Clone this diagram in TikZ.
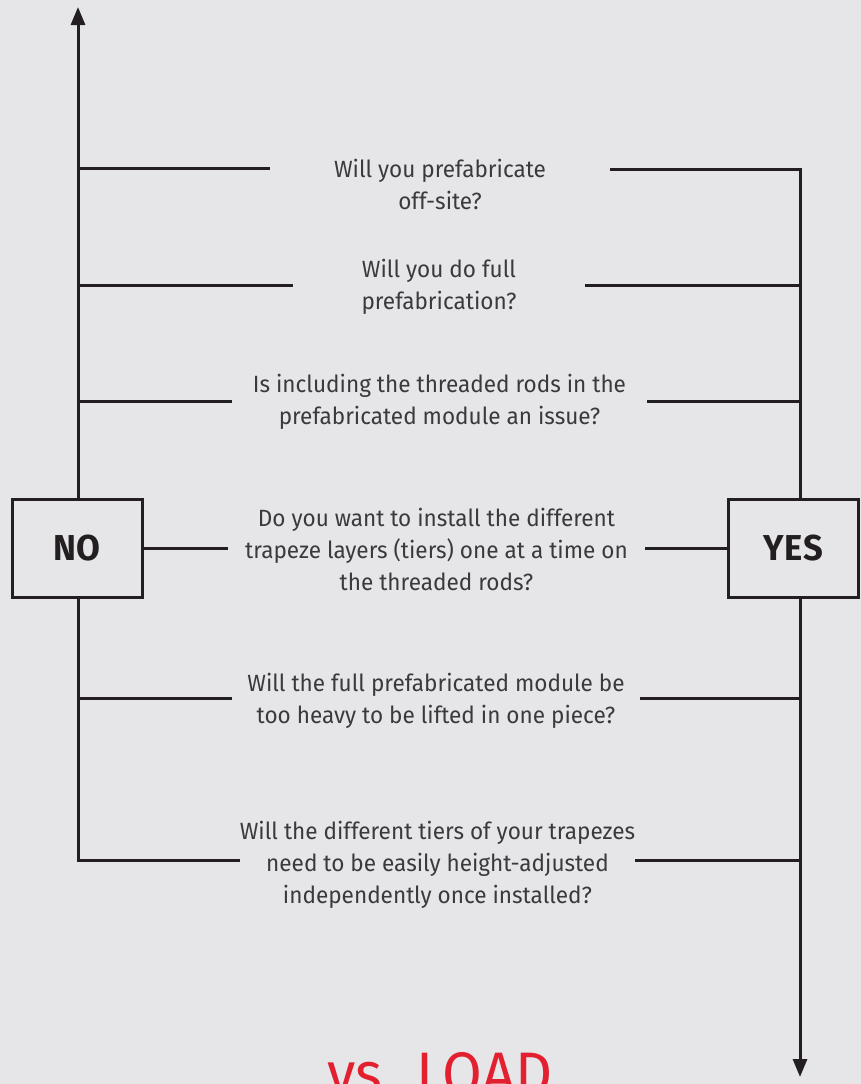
\documentclass[tikz,border=0pt]{standalone}
\usepackage{fontspec}
\setmainfont{Fira Sans}[FakeStretch=0.96]
\usetikzlibrary{arrows.meta}
\definecolor{bg}{HTML}{E6E6E8}
\definecolor{ink}{HTML}{231F20}
\definecolor{qtext}{HTML}{3A3A3C}
\definecolor{loadred}{HTML}{E2202F}
\tikzset{
  link/.style={draw=ink, line width=3pt},
  tip/.style={-{Triangle[length=18pt,width=14pt]}},
  answer/.style={draw=ink, line width=3pt, minimum width=130pt, minimum height=98pt,
    inner sep=0pt, text=ink, font=\bfseries\fontsize{36}{36}\selectfont},
  question/.style={minimum width=#1, inner sep=0pt, align=center, text=qtext,
    font=\fontsize{23.5}{32}\selectfont}
}
\begin{document}
\begin{tikzpicture}[x=1pt,y=-1pt]
  \fill[bg] (0,0) rectangle (861,1084);
  \useasboundingbox (0,0) rectangle (861,1084);
  \def\xNo{78}
  \def\xYes{800}
  \node[answer] (no) at (77,548) {N\kern1ptO};
  \node[answer] (yes) at (793.5,548) {Y\kern1ptE\kern1ptS};
  \node[question=340pt] (q1) at (440,184) {Will you prefabricate\\off-site?};
  \node[question=292pt] (q2) at (439,287) {Will you do full\\prefabrication?};
  \node[question=415pt] (q3) at (439.5,402) {Is including the threaded rods in the\\prefabricated module an issue?};
  \node[question=417pt] (q4) at (436.5,549) {Do you want to install the different\\trapeze layers (tiers) one at a time on\\the threaded rods?};
  \node[question=408pt] (q5) at (436,701) {Will the full prefabricated module be\\too heavy to be lifted in one piece?};
  \node[question=395pt] (q6) at (437.5,865) {Will the different tiers of your trapezes\\need to be easily height-adjusted\\independently once installed?};
  \node[anchor=base, text=loadred, font=\fontsize{60}{60}\selectfont] (load) at (440,1094) {vs. LOAD};
  \coordinate (topL) at (\xNo,7);
  \coordinate (l1) at (\xNo,168);
  \coordinate (l2) at (\xNo,285);
  \coordinate (l3) at (\xNo,401);
  \coordinate (l5) at (\xNo,698);
  \coordinate (l6) at (\xNo,860);
  \coordinate (r1) at (\xYes,169);
  \coordinate (r2) at (\xYes,285);
  \coordinate (r3) at (\xYes,401);
  \coordinate (r5) at (\xYes,698);
  \coordinate (r6) at (\xYes,860);
  \coordinate (botR) at (\xYes,1077);
  \draw[link,tip] (topL |- no.north) -- (topL);
  \draw[link] (no.south -| topL) -- (l6) -- (l6 -| q6.west);
  \draw[link] (l1) -- (l1 -| q1.west);
  \draw[link] (l2) -- (l2 -| q2.west);
  \draw[link] (l3) -- (l3 -| q3.west);
  \draw[link] (l5) -- (l5 -| q5.west);
  \draw[link] (no.east) -- (no.east -| q4.west);
  \draw[link] (r1 -| q1.east) -- (r1) -- (r1 |- yes.north);
  \draw[link,tip] (yes.south -| botR) -- (botR);
  \draw[link] (r2 -| q2.east) -- (r2);
  \draw[link] (r3 -| q3.east) -- (r3);
  \draw[link] (r5 -| q5.east) -- (r5);
  \draw[link] (r6 -| q6.east) -- (r6);
  \draw[link] (yes.west -| q4.east) -- (yes.west);
\end{tikzpicture}
\end{document}
